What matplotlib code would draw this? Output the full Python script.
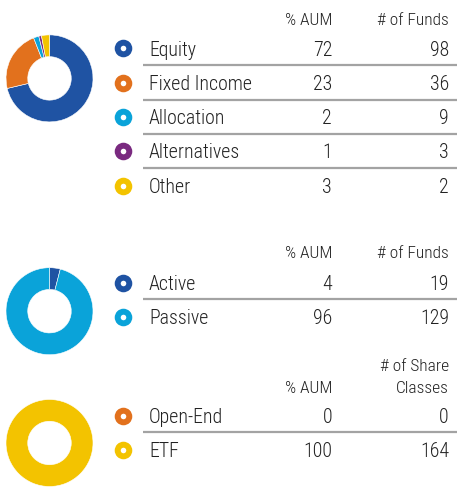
import matplotlib.pyplot as plt

## fonts: a narrow face is closest to the reference
plt.rcParams['font.family'] = ['Liberation Sans Narrow', 'Roboto Condensed', 'DejaVu Sans']
plt.rcParams['font.weight'] = 'light'

## data for the three blocks
cat_labels = ['Equity', 'Fixed Income', 'Allocation', 'Alternatives', 'Other']
cat_aum = [72, 23, 2, 1, 3]
cat_funds = [98, 36, 9, 3, 2]

mgmt_labels = ['Active', 'Passive']
mgmt_aum = [4, 96]
mgmt_funds = [19, 129]

vehicle_labels = ['Open-End', 'ETF']
vehicle_aum = [0, 100]
vehicle_classes = [0, 164]

blue = '#1F53A3'
orange = '#E2711D'
cyan = '#0AA3D9'
purple = '#7A2A80'
yellow = '#F3C300'

cat_colors = [blue, orange, cyan, purple, yellow]
mgmt_colors = [blue, cyan]
vehicle_colors = [orange, yellow]

W, H = 457, 487
txt = '#222222'
sep = '#A3A3A3'

fig = plt.figure(figsize=(W / 100, H / 100), dpi=100)
ax = fig.add_axes([0, 0, 1, 1])
ax.set_xlim(0, W)
ax.set_ylim(H, 0)
ax.axis('off')


## donut drawn in its own little axes (pixel centre, pixel radius)
def donut(cx, cy, r, values, colors):
    dax = fig.add_axes([(cx - r) / W, 1 - (cy + r) / H, 2 * r / W, 2 * r / H])
    dax.pie(values, colors=colors, startangle=90, counterclock=False,
            wedgeprops=dict(width=0.5, edgecolor='white', linewidth=0.4))
    dax.set_xlim(-1, 1)
    dax.set_ylim(-1, 1)
    dax.axis('off')


## one block of legend rows with two value columns
def block(labels, colors, col1, col2, ys, seps):
    for lab, c, v1, v2, y in zip(labels, colors, col1, col2, ys):
        ax.scatter([123.3], [y], s=160, color=c, zorder=3, linewidths=0)
        ax.scatter([123.3], [y], s=16, color='white', zorder=4, linewidths=0)
        ax.text(149, y + 7.2, lab, fontsize=14.3, color=txt, va='baseline', ha='left')
        ax.text(332, y + 7.2, str(v1), fontsize=14.3, color=txt, va='baseline', ha='right')
        ax.text(449, y + 7.2, str(v2), fontsize=14.3, color=txt, va='baseline', ha='right')
    for s in seps:
        ax.plot([143, W], [s, s], color=sep, lw=1.6, solid_capstyle='butt')


hdr = 12.5

## block 1: asset class
donut(49.5, 78.4, 43.5, cat_aum, cat_colors)
ax.text(332, 25, '% AUM', fontsize=hdr, color=txt, ha='right', va='baseline')
ax.text(449, 25, '# of Funds', fontsize=hdr, color=txt, ha='right', va='baseline')
rows1 = [48.3, 82.5, 116.9, 151.3, 185.6]
block(cat_labels, cat_colors, cat_aum, cat_funds, rows1, [65.2, 99.6, 134.0, 168.4])

## block 2: active / passive
donut(49.5, 311.2, 43.5, mgmt_aum, mgmt_colors)
ax.text(332, 258.3, '% AUM', fontsize=hdr, color=txt, ha='right', va='baseline')
ax.text(449, 258.3, '# of Funds', fontsize=hdr, color=txt, ha='right', va='baseline')
block(mgmt_labels, mgmt_colors, mgmt_aum, mgmt_funds, [282.8, 317.2], [298.8])

## block 3: vehicle
donut(49.5, 443.0, 43.5, vehicle_aum, vehicle_colors)
ax.text(449, 370.7, '# of Share', fontsize=hdr, color=txt, ha='right', va='baseline')
ax.text(449, 393.3, 'Classes', fontsize=hdr, color=txt, ha='right', va='baseline')
ax.text(332, 393.3, '% AUM', fontsize=hdr, color=txt, ha='right', va='baseline')
block(vehicle_labels, vehicle_colors, vehicle_aum, vehicle_classes, [415.8, 450.2], [432.0])

fig.savefig('out.png', dpi=100, facecolor='white')
